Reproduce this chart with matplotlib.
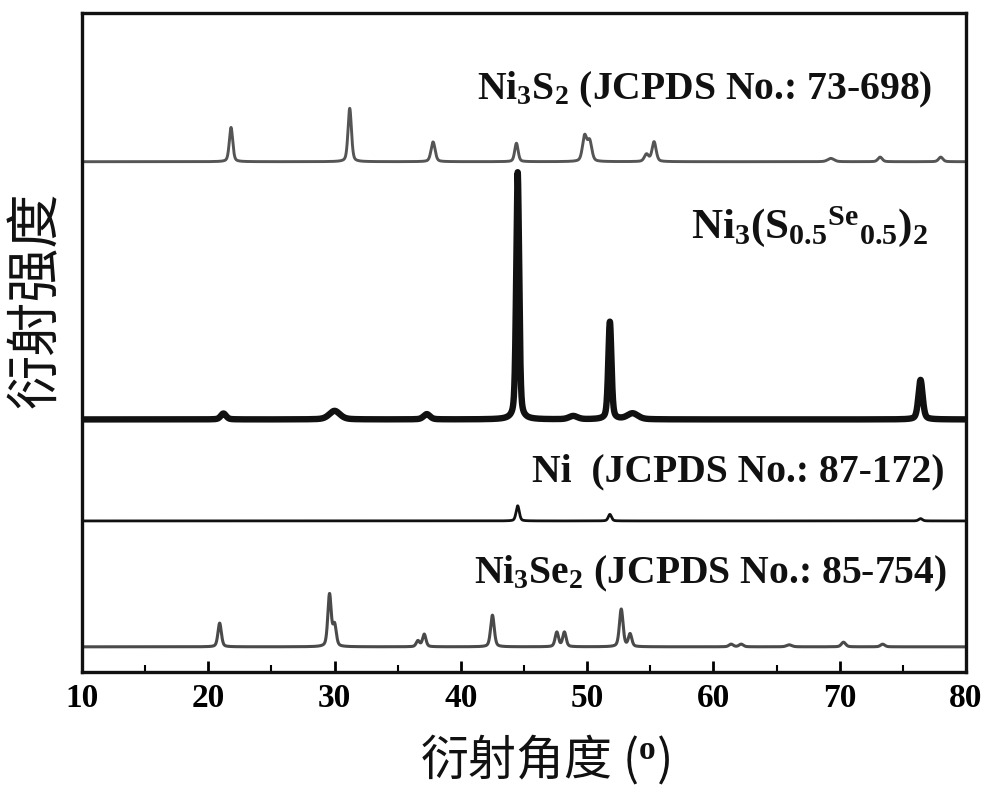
import numpy as np
import matplotlib
matplotlib.use("Agg")
import matplotlib.pyplot as plt
from matplotlib.ticker import MultipleLocator

# ---------------- data ----------------
x_min, x_max = 10, 80

# Ni3S2 reference pattern (JCPDS 73-698)
s_pos = [21.8, 31.2, 37.8, 44.4, 49.8, 50.2, 54.7, 55.3, 69.3, 73.2, 78.0]
s_hgt = [5.2, 8.1, 3.0, 2.8, 3.8, 3.0, 1.1, 3.0, 0.5, 0.7, 0.7]
s_wid = [0.32, 0.32, 0.38, 0.32, 0.40, 0.40, 0.40, 0.38, 0.6, 0.4, 0.4]
s_base = 77.4

# Ni3(S0.5Se0.5)2 sample
m_pos = [21.2, 30.0, 37.3, 44.5, 48.9, 51.8, 53.6, 76.4]
m_hgt = [0.9, 1.3, 0.8, 37.5, 0.5, 14.8, 0.9, 6.0]
m_wid = [0.5, 1.0, 0.6, 0.28, 0.8, 0.30, 1.0, 0.40]
m_base = 38.3

# Ni reference pattern (JCPDS 87-172)
n_pos = [44.5, 51.8, 76.4]
n_hgt = [2.3, 1.0, 0.35]
n_wid = [0.30, 0.30, 0.35]
n_base = 22.9

# Ni3Se2 reference pattern (JCPDS 85-754)
e_pos = [20.9, 29.6, 30.0, 36.6, 37.1, 42.5, 47.6, 48.2, 52.7, 53.4, 61.4, 62.2, 66.0, 70.3, 73.4]
e_hgt = [3.6, 7.9, 3.2, 0.9, 1.9, 4.8, 2.2, 2.2, 5.7, 1.9, 0.4, 0.4, 0.3, 0.7, 0.4]
e_wid = [0.32, 0.32, 0.32, 0.32, 0.32, 0.34, 0.32, 0.32, 0.34, 0.32, 0.40, 0.40, 0.5, 0.4, 0.4]
e_base = 3.8

labels = [
    r"Ni$_3$S$_2$ (JCPDS No.: 73-698)",
    r"Ni$_3$(S$_{0.5}$$^{\mathrm{Se}}$$_{0.5}$)$_2$",
    r"Ni  (JCPDS No.: 87-172)",
    r"Ni$_3$Se$_2$ (JCPDS No.: 85-754)",
]
xticks = [10, 20, 30, 40, 50, 60, 70, 80]
xlabel = "衍射角度 ($^\\mathrm{o}$)"
ylabel = "衍射强度"

# ---------------- drawing ----------------
plt.rcParams["mathtext.fontset"] = "custom"
plt.rcParams["mathtext.rm"] = "Liberation Serif:bold"
plt.rcParams["mathtext.it"] = "Liberation Serif:bold"
plt.rcParams["mathtext.bf"] = "Liberation Serif:bold"

x = np.linspace(x_min, x_max, 14001)


def pattern(pos, hgt, wid, base):
    y = np.full_like(x, base)
    for p, h, w in zip(pos, hgt, wid):
        g = np.exp(-4 * np.log(2) * ((x - p) / w) ** 2)
        l = 1.0 / (1.0 + 4 * ((x - p) / w) ** 2)
        y += h * (0.6 * g + 0.4 * l)
    return y


fig = plt.figure(figsize=(10, 7.97), dpi=100)
ax = fig.add_axes([0.082, 0.157, 0.884, 0.827])

ax.plot(x, pattern(s_pos, s_hgt, s_wid, s_base), color="#555555", lw=2.1)
ax.plot(x, pattern(m_pos, m_hgt, m_wid, m_base), color="#111111", lw=4.6)
ax.plot(x, pattern(n_pos, n_hgt, n_wid, n_base), color="#111111", lw=2.0)
ax.plot(x, pattern(e_pos, e_hgt, e_wid, e_base), color="#4a4a4a", lw=2.2)

ax.set_xlim(x_min, x_max)
ax.set_ylim(0, 100)

tf = dict(family="Liberation Serif", weight="bold", size=28.5, color="#111111")
ax.text(77.3, 88.3, labels[0], ha="right", va="center", **tf)
ax.text(77.0, 67.5, labels[1], ha="right", va="center",
        **{**tf, "size": 31})
ax.text(78.3, 30.3, labels[2], ha="right", va="center", **tf)
ax.text(78.5, 14.8, labels[3], ha="right", va="center", **tf)

ax.set_xticks(xticks)
ax.set_xticklabels([str(t) for t in xticks], family="Liberation Serif",
                   weight="bold", size=24)
ax.xaxis.set_minor_locator(MultipleLocator(5))
ax.tick_params(axis="x", which="major", direction="in", length=8, width=2,
               top=False, pad=8)
ax.tick_params(axis="x", which="minor", direction="in", length=5, width=1.5,
               top=False)
ax.set_yticks([])
for sp in ax.spines.values():
    sp.set_linewidth(2.4)
    sp.set_color("#111111")

cjk = ["Noto Sans CJK SC", "DejaVu Sans"]
fig.text(0.545, 1 - 759 / 797, xlabel, family=cjk, size=34.5,
         ha="center", va="center", color="#111111")
fig.text(0.036, 1 - 300 / 797, ylabel, family=cjk, size=39, rotation=90,
         ha="center", va="center", color="#111111")

fig.savefig("out.png", dpi=100, facecolor="white")
